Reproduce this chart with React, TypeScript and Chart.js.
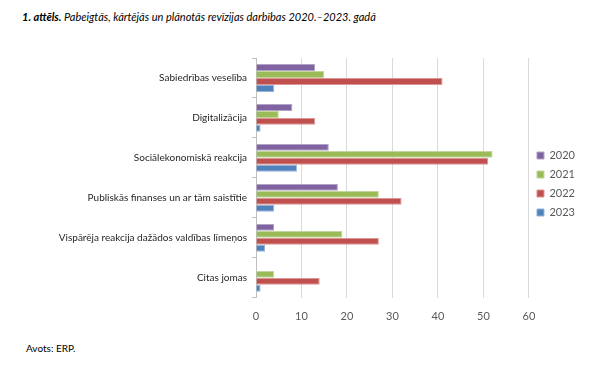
import React, { useEffect, useRef } from "react";
import { Chart, registerables } from "chart.js";

Chart.register(...registerables);

const categories = [
  "Sabiedrības veselība",
  "Digitalizācija",
  "Sociālekonomiskā reakcija",
  "Publiskās finanses un ar tām saistītie",
  "Vispārēja reakcija dažādos valdības līmeņos",
  "Citas jomas",
];
const series2020 = [13, 8, 16, 18, 4, 0];
const series2021 = [15, 5, 52, 27, 19, 4];
const series2022 = [41, 13, 51, 32, 27, 14];
const series2023 = [4, 1, 9, 4, 2, 1];
const seriesLabels = ["2020", "2021", "2022", "2023"];
const xTicks = [0, 10, 20, 30, 40, 50, 60];

const FONT = "Lato, 'Open Sans', sans-serif";

export default function App() {
  const ref = useRef<HTMLCanvasElement | null>(null);
  useEffect(() => {
    if (!ref.current) return;
    const colors = ["#8064a2", "#9bbb59", "#c0504d", "#4f81bd"];
    const borders = ["#b3a2c7", "#c3d69b", "#d99694", "#95b3d7"];
    const data = [series2020, series2021, series2022, series2023];
    const chart = new Chart(ref.current, {
      type: "bar",
      data: {
        labels: categories,
        datasets: data.map((d, i) => ({
          label: seriesLabels[i],
          data: d,
          backgroundColor: colors[i],
          borderColor: borders[i],
          borderWidth: 1,
          categoryPercentage: 0.7,
          barPercentage: 0.98,
        })),
      },
      options: {
        indexAxis: "y",
        animation: false,
        responsive: false,
        maintainAspectRatio: false,
        layout: { padding: { top: 13, bottom: 0, left: 0, right: 22 } },
        plugins: {
          tooltip: { enabled: false },
          legend: {
            position: "right",
            fullSize: false,
            title: {
              display: true,
              text: "",
              font: { size: 1 },
              padding: { top: 5, bottom: 6 },
            },
            labels: {
              boxWidth: 7,
              boxHeight: 7,
              padding: 8,
              color: "#595959",
              font: { family: FONT, size: 11 },
            },
          },
        },
        scales: {
          x: {
            min: 0,
            max: 60,
            afterBuildTicks: (s: any) => {
              s.ticks = xTicks.map((v) => ({ value: v }));
            },
            grid: { color: "#d9d9d9", drawTicks: false },
            border: { display: false },
            ticks: {
              padding: 12,
              color: "#595959",
              font: { family: FONT, size: 11 },
            },
          },
          y: {
            afterFit: (s: any) => {
              s.width = 256;
            },
            grid: {
              display: true,
              drawOnChartArea: false,
              drawTicks: true,
              tickLength: 4,
              color: "#bfbfbf",
            },
            border: { display: true, color: "#bfbfbf" },
            ticks: {
              padding: 5,
              color: "#262626",
              font: { family: FONT, size: 10 },
            },
          },
        },
      },
    });
    return () => chart.destroy();
  }, []);

  return (
    <div
      style={{
        position: "fixed",
        left: 0,
        top: 0,
        width: 607,
        height: 371,
        background: "#fff",
        fontFamily: FONT,
      }}
    >
      <div
        style={{
          position: "absolute",
          left: 22,
          top: 10,
          fontSize: 11,
          fontStyle: "italic",
          color: "#000",
          whiteSpace: "nowrap",
        }}
      >
        <b>1. attēls.</b> Pabeigtās, kārtējās un plānotās revīzijas darbības 2020.–2023. gadā
      </div>
      <canvas
        ref={ref}
        width={607}
        height={290}
        style={{ position: "absolute", left: 0, top: 45, width: 607, height: 290 }}
      />
      <div
        style={{
          position: "absolute",
          left: 26,
          top: 342,
          fontSize: 10,
          fontWeight: 400,
          color: "#000",
          whiteSpace: "nowrap",
        }}
      >
        Avots: ERP.
      </div>
    </div>
  );
}
